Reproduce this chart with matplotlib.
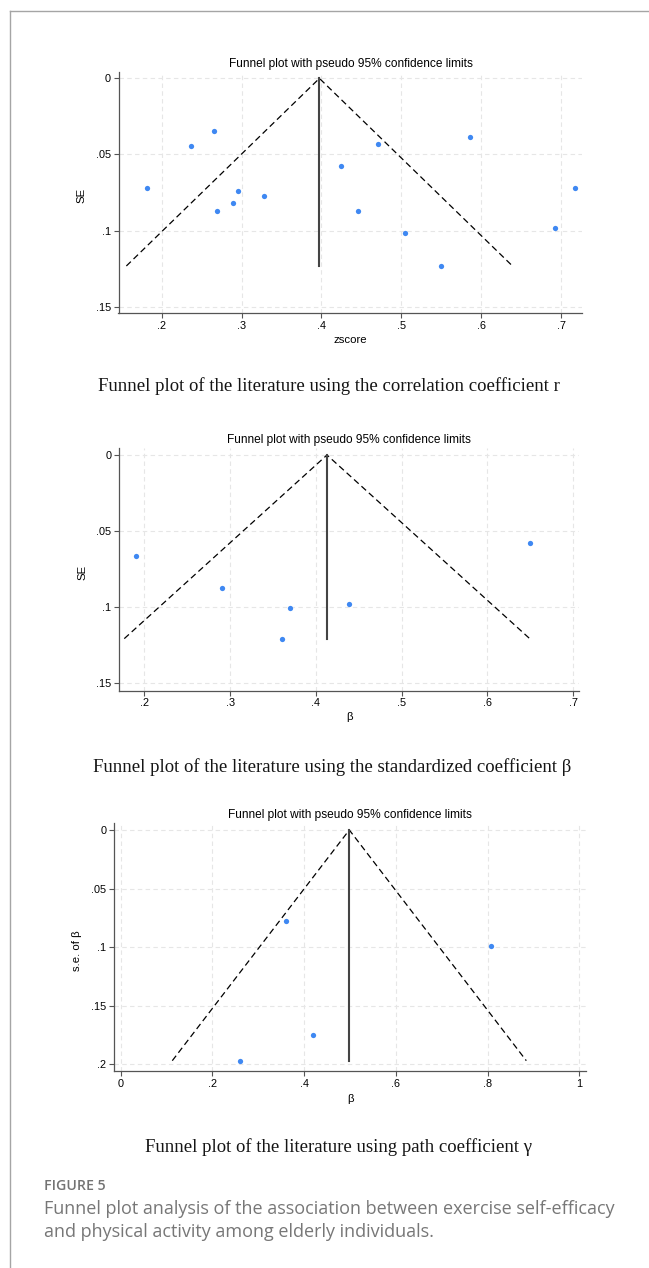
import matplotlib
matplotlib.use("Agg")
import matplotlib.pyplot as plt
from matplotlib.lines import Line2D

# panel 1: correlation coefficient r
zscore = [0.182, 0.237, 0.2655, 0.269, 0.289, 0.2957, 0.3284, 0.424, 0.446,
          0.471, 0.505, 0.5496, 0.5866, 0.693, 0.7177]
se_r = [0.0718, 0.0442, 0.0346, 0.0874, 0.0821, 0.0738, 0.0771, 0.0578, 0.0874,
        0.0429, 0.1016, 0.1233, 0.0385, 0.0985, 0.0718]
pooled_r = 0.3975

# panel 2: standardized coefficient beta
beta_std = [0.19, 0.29, 0.36, 0.37, 0.4386, 0.65]
se_beta_std = [0.0661, 0.0871, 0.1206, 0.1003, 0.0979, 0.0580]
pooled_beta_std = 0.413

# panel 3: path coefficient gamma
beta_path = [0.2605, 0.3604, 0.4204, 0.8078]
se_beta_path = [0.1969, 0.0777, 0.175, 0.0987]
pooled_beta_path = 0.4985

xticks_1 = [0.2, 0.3, 0.4, 0.5, 0.6, 0.7]
xticks_3 = [0, 0.2, 0.4, 0.6, 0.8, 1]
yticks_12 = [0, 0.05, 0.1, 0.15]
yticks_3 = [0, 0.05, 0.1, 0.15, 0.2]

title = "Funnel plot with pseudo 95% confidence limits"
captions = ["Funnel plot of the literature using the correlation coefficient r",
            "Funnel plot of the literature using the standardized coefficient \u03b2",
            "Funnel plot of the literature using path coefficient \u03b3"]

W, H = 649, 1268
fig = plt.figure(figsize=(W / 100, H / 100), dpi=100)
fig.patch.set_facecolor("white")

SANS = "Liberation Sans"


def fx(x):
    return x / W


def fy(y):
    return 1 - y / H


def stata_label(v):
    if v == 0:
        return "0"
    if v == 1:
        return "1"
    s = f"{v:g}"
    return s[1:] if s.startswith("0.") else s


def funnel(box, xs, ses, pooled, xlim, ylim, xticks, yticks, xlabel, ylabel,
           title_y, xlabel_y, ylabel_x):
    l, t, r, b = box
    ax = fig.add_axes([fx(l), fy(b), fx(r - l), (b - t) / H])
    ax.set_xlim(*xlim)
    ax.set_ylim(ylim[1], ylim[0])
    ax.set_xticks(xticks)
    ax.set_yticks(yticks)
    ax.set_xticklabels([stata_label(v) for v in xticks], fontsize=7.8, family=SANS)
    ax.set_yticklabels([stata_label(v) for v in yticks], fontsize=7.8, family=SANS)
    ax.tick_params(length=3.5, width=0.8, color="#555555", pad=2)
    for side in ("top", "right"):
        ax.spines[side].set_visible(False)
    for side in ("left", "bottom"):
        ax.spines[side].set_color("#555555")
        ax.spines[side].set_linewidth(0.9)
    ax.grid(True, color="#e6e6e6", linewidth=0.8, linestyle=(0, (4, 3)))
    ax.set_axisbelow(True)

    se_max = max(ses)
    half = 1.96 * se_max
    ax.plot([pooled - half, pooled, pooled + half], [se_max, 0, se_max],
            color="black", lw=0.9, linestyle=(0, (5, 3)), zorder=3)
    ax.plot([pooled, pooled], [0, se_max], color="#444444", lw=1.5, zorder=3)
    ax.plot(xs, ses, "o", color="#3f88f2", markersize=3.8, markeredgewidth=0,
            zorder=4)

    cx = (l + r) / 2
    fig.text(fx(cx), fy(title_y), title, ha="center", va="center",
             fontsize=8.6, family=SANS)
    fig.text(fx(cx), fy(xlabel_y), xlabel, ha="center", va="center",
             fontsize=8.2, family=SANS)
    fig.text(fx(ylabel_x), fy((t + b) / 2 + 3), ylabel, ha="center", va="center",
             rotation=90, fontsize=8.2, family=SANS)
    return ax


funnel((118.5, 71.7, 582.4, 313.3), zscore, se_r, pooled_r,
       (0.146, 0.7267), (-0.0044, 0.1544), xticks_1, yticks_12,
       "zscore", "SE", 64, 340, 81)
funnel((119.2, 448.3, 579.3, 690.7), beta_std, se_beta_std, pooled_beta_std,
       (0.1707, 0.7072), (-0.0044, 0.1548), xticks_1, yticks_12,
       "\u03b2", "SE", 440, 717, 82)
funnel((114.1, 823.3, 586.2, 1071), beta_path, se_beta_path, pooled_beta_path,
       (-0.0143, 1.015), (-0.0057, 0.2057), xticks_3, yticks_3,
       "\u03b2", "s.e. of \u03b2", 815, 1099, 77)

for cx, y, cap in zip([329, 332, 338], [386, 767, 1147], captions):
    fig.text(fx(cx), fy(y), cap, ha="center", va="center",
             fontsize=13.5, family="Liberation Serif", color="#151515")

# figure caption block
fig.text(fx(44), fy(1186), "FIGURE 5", ha="left", va="center", fontsize=10.2,
         family="Open Sans", fontweight="semibold", color="#737373")
fig.text(fx(44), fy(1209), "Funnel plot analysis of the association between exercise self-efficacy",
         ha="left", va="center", fontsize=13.0, family="Open Sans", color="#777777")
fig.text(fx(44), fy(1232), "and physical activity among elderly individuals.",
         ha="left", va="center", fontsize=13.0, family="Open Sans", color="#777777")

# page frame
fig.add_artist(Line2D([fx(9.5), 1], [fy(11), fy(11)], color="#a5a5a5", lw=1))
fig.add_artist(Line2D([fx(9.5), fx(9.5)], [fy(11), 0], color="#a5a5a5", lw=1))

fig.savefig("out.png", dpi=100)
